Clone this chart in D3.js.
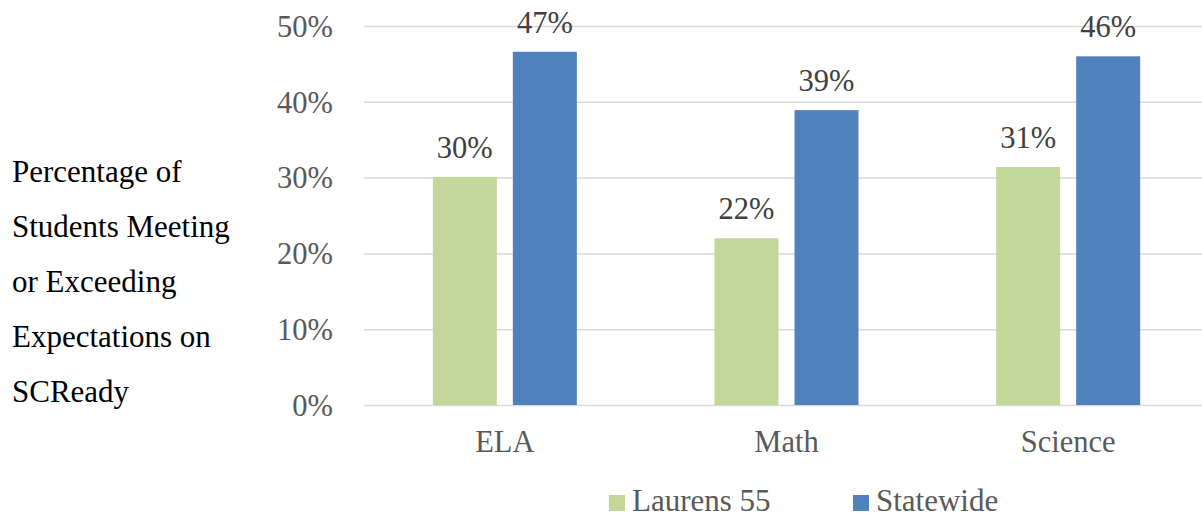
<!DOCTYPE html>
<html lang="en">
<head>
<meta charset="UTF-8">
<title>SCReady</title>
<style>
    body { margin: 0; background: #fff; }
    .tick line { stroke: #d9d9d9; stroke-width: 1.5; }
</style>
</head>
<body>
<svg width="1202" height="516"></svg>
<script src="https://d3js.org/d3.v7.min.js"></script>
<script>

    // Chart data
    const categories = ['ELA', 'Math', 'Science'];
    const seriesNames = ['Laurens 55', 'Statewide'];
    const laurens = [30.1, 22.0, 31.4];
    const statewide = [46.6, 38.9, 46.0];
    const yTickValues = [0, 10, 20, 30, 40, 50];
    const titleLines = ['Percentage of', 'Students Meeting', 'or Exceeding', 'Expectations on', 'SCReady'];

    const colors = ['#c4d79b', '#4f81bd'];
    const serif = '"Liberation Serif", "Times New Roman", Times, serif';

    const svg = d3.select('svg');

    // plot area (right side runs a little past the window, as in the original)
    const plot = { left: 364, right: 1209, top: 26, bottom: 405 };

    const xScale = d3.scaleBand()
        .domain(categories)
        .range([plot.left, plot.right]);

    const xInner = d3.scaleBand()
        .domain(seriesNames)
        .range([0, xScale.bandwidth()])
        .paddingInner(0.2)
        .paddingOuter(0.86);

    const yScale = d3.scaleLinear()
        .domain([0, 50])
        .range([plot.bottom, plot.top]);

    // y axis with gridlines
    const yAxis = d3.axisLeft(yScale)
        .tickValues(yTickValues)
        .tickFormat(d => d + '%')
        .tickSize(-(plot.right - plot.left))
        .tickPadding(31);

    const yAxisG = svg.append('g')
        .attr('transform', 'translate(' + plot.left + ',0)')
        .call(yAxis)
        .attr('font-family', null)
        .attr('font-size', null);
    yAxisG.select('.domain').remove();
    yAxisG.selectAll('.tick text')
        .attr('dy', '0.34em')
        .attr('fill', '#595959')
        .style('font-family', serif)
        .style('font-size', '30.5px');

    // bars
    const rows = categories.map((c, i) => ({ cat: c, values: [laurens[i], statewide[i]] }));

    const groups = svg.append('g')
        .selectAll('g')
        .data(rows)
        .enter()
        .append('g')
        .attr('transform', d => 'translate(' + xScale(d.cat) + ',0)');

    const bars = groups.selectAll('g')
        .data(d => d.values.map((v, j) => ({ name: seriesNames[j], value: v, idx: j })))
        .enter()
        .append('g');

    bars.append('rect')
        .attr('x', d => xInner(d.name))
        .attr('y', d => yScale(d.value))
        .attr('width', xInner.bandwidth())
        .attr('height', d => plot.bottom - yScale(d.value))
        .attr('fill', d => colors[d.idx]);

    bars.append('text')
        .attr('x', d => xInner(d.name) + xInner.bandwidth() / 2)
        .attr('y', d => yScale(d.value) - 19)
        .attr('text-anchor', 'middle')
        .attr('fill', '#404040')
        .style('font-family', serif)
        .style('font-size', '30.5px')
        .text(d => Math.round(d.value) + '%');

    // category labels
    svg.append('g')
        .selectAll('text')
        .data(categories)
        .enter()
        .append('text')
        .attr('x', d => xScale(d) + xScale.bandwidth() / 2)
        .attr('y', 452)
        .attr('text-anchor', 'middle')
        .attr('fill', '#595959')
        .style('font-family', serif)
        .style('font-size', '30.5px')
        .text(d => d);

    // left title
    svg.append('g')
        .selectAll('text')
        .data(titleLines)
        .enter()
        .append('text')
        .attr('x', 12)
        .attr('y', (d, i) => 182 + i * 55)
        .attr('fill', '#000')
        .style('font-family', serif)
        .style('font-size', '31px')
        .text(d => d);

    // legend
    const legendX = [609, 853];
    const legend = svg.append('g')
        .selectAll('g')
        .data(seriesNames)
        .enter()
        .append('g')
        .attr('transform', (d, i) => 'translate(' + legendX[i] + ',495)');

    legend.append('rect')
        .attr('width', 16)
        .attr('height', 16)
        .attr('fill', (d, i) => colors[i]);

    legend.append('text')
        .attr('x', 23)
        .attr('y', 16)
        .attr('fill', '#595959')
        .style('font-family', serif)
        .style('font-size', '31px')
        .text(d => d);

</script>
</body>
</html>
